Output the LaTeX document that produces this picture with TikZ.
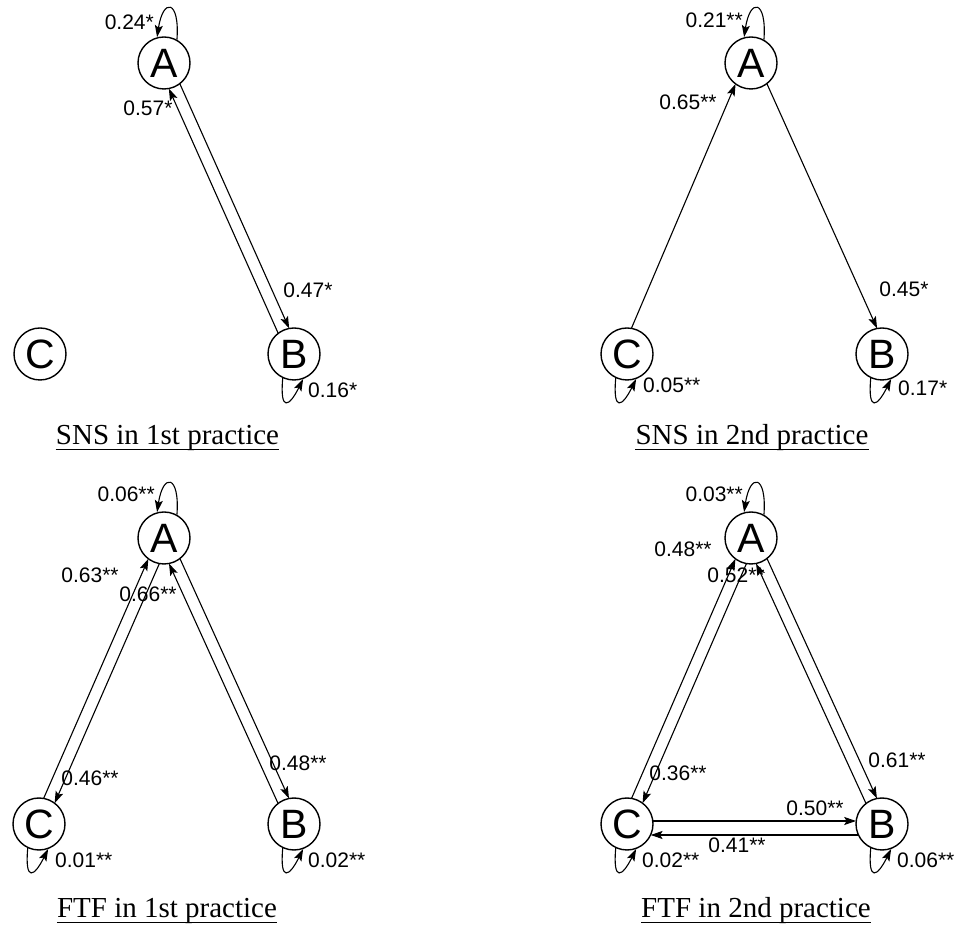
\documentclass[tikz,border=0pt]{standalone}
\usepackage{fontspec}
\setmainfont{Liberation Serif}
\newfontfamily\labelfont{Liberation Sans}
\usetikzlibrary{arrows.meta,calc}

\tikzset{
  vtx/.style={circle, draw, line width=1.4pt, minimum size=52pt, inner sep=0pt,
    font=\labelfont\fontsize{41}{41}\selectfont},
  tip/.style={-{Stealth[length=12pt,width=8pt,inset=2.5pt]}},
  link/.style={tip, line width=1.1pt},
  selfarc/.style={tip, line width=1.1pt},
  wlabel/.style={font=\labelfont\fontsize{21}{21}\selectfont, inner sep=0pt},
  paneltitle/.style={font=\fontsize{29}{29}\selectfont, inner sep=0pt, anchor=base},
  uline/.style={line width=1.6pt}
}

% directed edge #2 -> #3, drawn parallel to the centre line, #1 pt to its left
\newcommand\sideedge[3][6]{%
  \draw[link, shorten <={sqrt(676-(#1)*(#1))*1pt}, shorten >={sqrt(676-(#1)*(#1))*1pt}]
    ($(#2)!#1pt!90:(#3)$) -- ($(#3)!#1pt!-90:(#2)$);}
% self loops above (top vertex) and below (bottom vertices)
\newcommand\toploop[1]{\draw[selfarc] (#1.61) .. controls +(3,40) and +(6,40) .. (#1.105);}
\newcommand\botloop[1]{\draw[selfarc] (#1.245) .. controls +(-3,-34) and +(-14,-28) .. (#1.290);}
% underlined panel caption
\newcommand\panelcaption[3]{%
  \node[paneltitle] (#1) at (#2) {#3};
  \draw[uline] ([yshift=-4.5pt]#1.base west) -- ([yshift=-4.5pt]#1.base east);}

\begin{document}
\begin{tikzpicture}[x=1pt,y=1pt]
\useasboundingbox (0,0) rectangle (954,927);

% ---------- SNS, 1st practice ----------
\node[vtx] (A1) at (164,864) {A};
\node[vtx] (B1) at (294,573) {B};
\node[vtx] (C1) at (40,573) {C};
\sideedge{A1}{B1}
\sideedge{B1}{A1}
\toploop{A1}
\botloop{B1}
\node[wlabel, anchor=east] (l11) at (154,905) {0.24*};
\node[wlabel] (l12) at (148,819) {0.57*};
\node[wlabel] (l13) at (308,637) {0.47*};
\node[wlabel, anchor=west] (l14) at (308,537) {0.16*};
\panelcaption{t1}{167.5,482}{SNS in 1st practice}

% ---------- SNS, 2nd practice ----------
\node[vtx] (A2) at (751,864) {A};
\node[vtx] (B2) at (882,573) {B};
\node[vtx] (C2) at (627,573) {C};
\sideedge{C2}{A2}
\sideedge{A2}{B2}
\toploop{A2}
\botloop{B2}
\botloop{C2}
\node[wlabel, anchor=east] (l21) at (743,907) {0.21**};
\node[wlabel] (l22) at (688,825) {0.65**};
\node[wlabel] (l23) at (904,638) {0.45*};
\node[wlabel, anchor=west] (l24) at (643,542) {0.05**};
\node[wlabel, anchor=west] (l25) at (898,539) {0.17*};
\panelcaption{t2}{752,482}{SNS in 2nd practice}

% ---------- FTF, 1st practice ----------
\node[vtx] (A3) at (164,389) {A};
\node[vtx] (B3) at (294,103) {B};
\node[vtx] (C3) at (39,103) {C};
\sideedge{A3}{C3}
\sideedge{C3}{A3}
\sideedge{A3}{B3}
\sideedge{B3}{A3}
\toploop{A3}
\botloop{B3}
\botloop{C3}
\node[wlabel, anchor=east] (l31) at (155,433) {0.06**};
\node[wlabel] (l32) at (90,352) {0.63**};
\node[wlabel] (l33) at (148,333) {0.66**};
\node[wlabel] (l34) at (90,149) {0.46**};
\node[wlabel] (l35) at (298,164) {0.48**};
\node[wlabel, anchor=west] (l36) at (55,67) {0.01**};
\node[wlabel, anchor=west] (l37) at (308,67) {0.02**};
\panelcaption{t3}{167,9}{FTF in 1st practice}

% ---------- FTF, 2nd practice ----------
\node[vtx] (A4) at (751,389) {A};
\node[vtx] (B4) at (882,103) {B};
\node[vtx] (C4) at (627,103) {C};
\sideedge{A4}{C4}
\sideedge{C4}{A4}
\sideedge{A4}{B4}
\sideedge{B4}{A4}
\sideedge[3]{C4}{B4}
\sideedge[11]{B4}{C4}
\toploop{A4}
\botloop{B4}
\botloop{C4}
\node[wlabel, anchor=east] (l41) at (743,433) {0.03**};
\node[wlabel] (l42) at (683,378) {0.48**};
\node[wlabel] (l43) at (736,352) {0.52**};
\node[wlabel] (l44) at (678,154) {0.36**};
\node[wlabel] (l45) at (897,167) {0.61**};
\node[wlabel] (l46) at (815,119) {0.50**};
\node[wlabel] (l47) at (737,82) {0.41**};
\node[wlabel, anchor=west] (l48) at (642,67) {0.02**};
\node[wlabel, anchor=west] (l49) at (897,67) {0.06**};
\panelcaption{t4}{756,9}{FTF in 2nd practice}
\end{tikzpicture}
\end{document}
